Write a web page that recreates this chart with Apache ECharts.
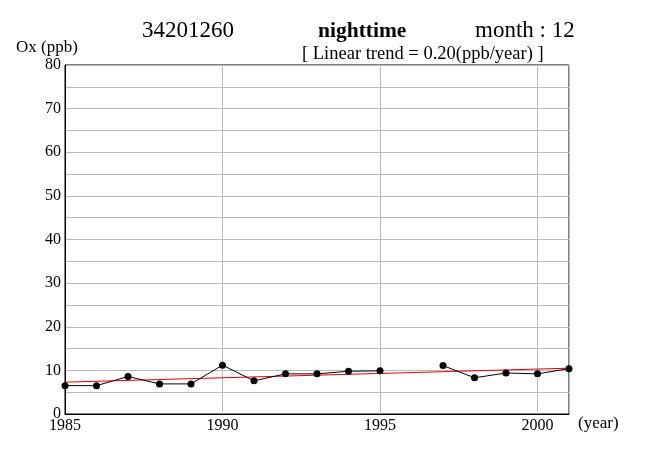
<!DOCTYPE html>
<html><head><meta charset="utf-8">
<script src="https://cdn.jsdelivr.net/npm/echarts@6/dist/echarts.min.js"></script>
<style>html,body{margin:0;padding:0;background:#fff}#c{width:650px;height:459px}</style>
</head><body><div id="c"></div>
<script>
const years = [1985,1986,1987,1988,1989,1990,1991,1992,1993,1994,1995,1996,1997,1998,1999,2000,2001];
const oxValues = [6.5,6.5,8.6,6.9,6.9,11.2,7.6,9.2,9.2,9.8,9.9,null,11.1,8.3,9.4,9.2,10.4];
const trendYears = [1985, 2001];
const trendValues = [7.3, 10.5];
const yTicks = [0,10,20,30,40,50,60,70,80];
const xTicks = [1985,1990,1995,2000];

const F = '"Liberation Serif", "DejaVu Serif", serif';
const chart = echarts.init(document.getElementById('c'));
chart.setOption({
  animation: false,
  backgroundColor: '#fff',
  grid: {left: 65, top: 65, width: 504, height: 349, show: true, borderColor: '#000', borderWidth: 1, containLabel: false},
  graphic: [
    {type: 'text', left: 142, top: 19.5, style: {text: '34201260', font: '23px ' + F, fill: '#000'}},
    {type: 'text', left: 318, top: 20.5, style: {text: 'nighttime', font: 'bold 21.5px ' + F, fill: '#000'}},
    {type: 'text', left: 475, top: 19.5, style: {text: 'month : 12', font: '23px ' + F, fill: '#000'}},
    {type: 'text', left: 302, top: 44.5, style: {text: '[ Linear trend = 0.20(ppb/year) ]', font: '18.5px ' + F, fill: '#000'}},
    {type: 'text', left: 16, top: 39, style: {text: 'Ox (ppb)', font: '17px ' + F, fill: '#000'}},
    {type: 'text', left: 578, top: 415, style: {text: '(year)', font: '17px ' + F, fill: '#000'}}
  ],
  xAxis: {
    type: 'value', min: 1985, max: 2001, interval: 5,
    axisLine: {show: true, lineStyle: {color: '#000'}},
    axisTick: {show: false},
    splitLine: {show: true, lineStyle: {color: '#bbb', width: 1}},
    axisLabel: {color: '#000', fontFamily: F, fontSize: 16, margin: 4, showMaxLabel: false,
      formatter: v => xTicks.includes(v) ? String(v) : ''}
  },
  yAxis: {
    type: 'value', min: 0, max: 80, interval: 5,
    axisLine: {show: true, lineStyle: {color: '#000'}},
    axisTick: {show: false},
    splitLine: {show: true, lineStyle: {color: '#bbb', width: 1}},
    axisLabel: {color: '#000', fontFamily: F, fontSize: 16, margin: 4,
      formatter: v => yTicks.includes(v) ? String(v) : ''}
  },
  series: [
    {type: 'line', data: trendYears.map((y, i) => [y, trendValues[i]]), symbol: 'none',
      lineStyle: {color: '#e00', width: 1}, z: 3},
    {type: 'line', data: years.map((y, i) => [y, oxValues[i]]), connectNulls: false,
      symbol: 'circle', symbolSize: 7, itemStyle: {color: '#000'},
      lineStyle: {color: '#000', width: 1}, z: 4}
  ]
});
</script></body></html>
